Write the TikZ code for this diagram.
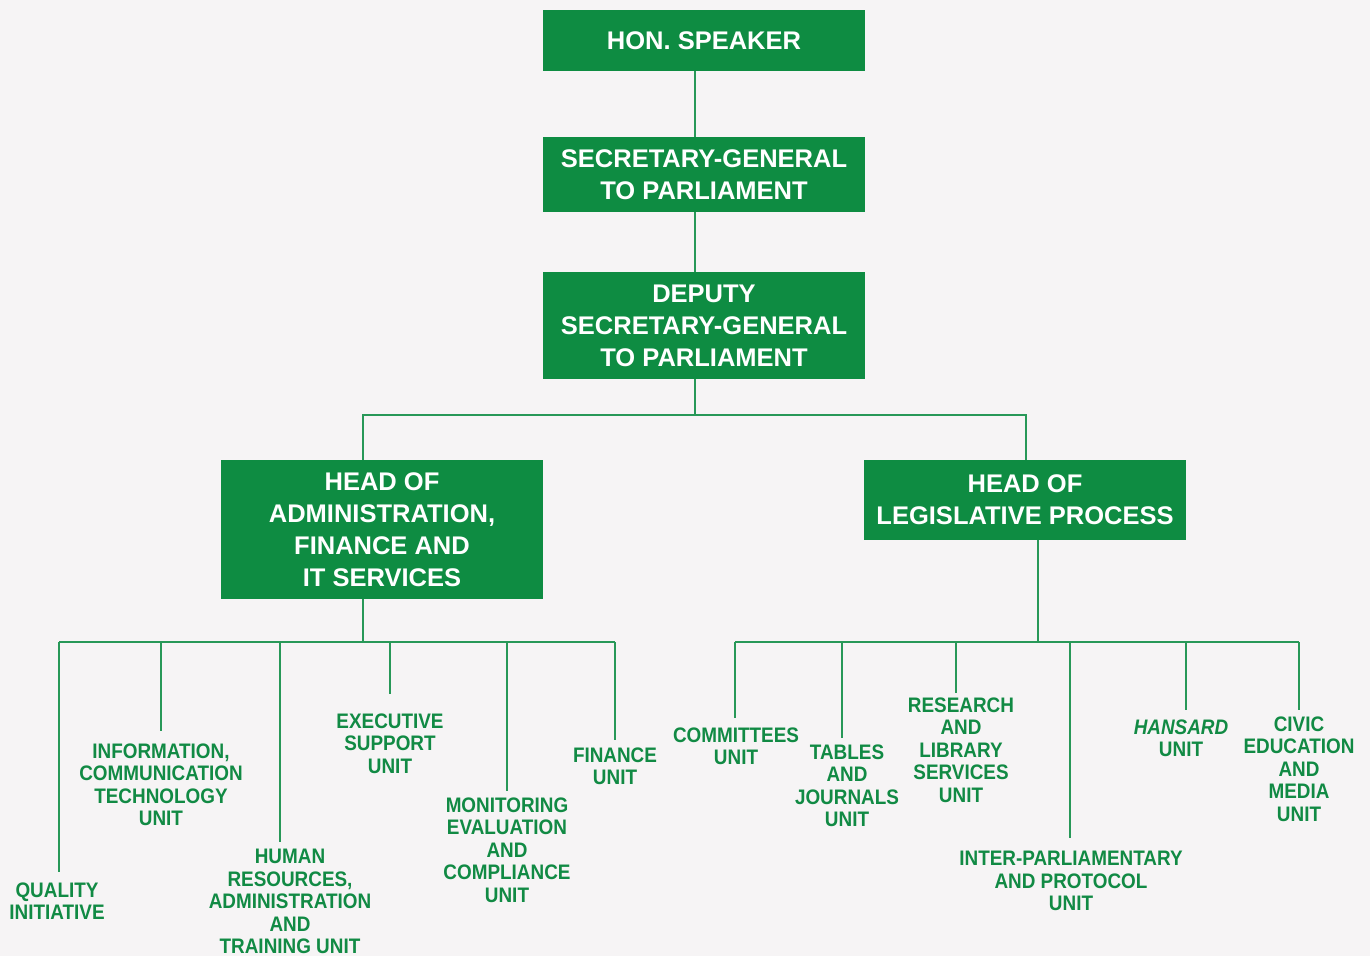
\documentclass[tikz,border=0pt]{standalone}
\usepackage{fontspec}
\setmainfont{Liberation Sans}
\newfontfamily\unitfont[FakeStretch=0.9]{Liberation Sans}
\usetikzlibrary{positioning}

\definecolor{boxgreen}{RGB}{14,140,66}
\definecolor{unitgreen}{RGB}{17,138,68}
\definecolor{linegreen}{RGB}{40,152,88}
\definecolor{paper}{RGB}{246,244,245}

\tikzset{
  post/.style={fill=boxgreen, text=white, align=center, inner sep=0pt,
    minimum width=161pt, font=\bfseries\fontsize{12.75}{16}\selectfont},
  unit/.style={text=unitgreen, align=center, inner xsep=0pt, inner ysep=#1, anchor=north,
    font=\unitfont\bfseries\fontsize{10.5}{11.25}\selectfont},
  unit/.default=3pt,
  link/.style={draw=linegreen, line width=0.75pt}
}

\begin{document}
\begin{tikzpicture}[x=0.5pt, y=-0.5pt]

\fill[paper] (0,0) rectangle (1370,956);
\useasboundingbox (0,0) rectangle (1370,956);

% top of the chart
\node[post, minimum height=30.5pt] (sp) at (704,40.5) {HON. SPEAKER};
\node[post, minimum height=37.5pt] (sg) at (704,174.5) {SECRETARY-GENERAL\\TO PARLIAMENT};
\node[post, minimum height=53.5pt] (dsg) at (704,325.5) {DEPUTY\\SECRETARY-GENERAL\\TO PARLIAMENT};
\node[post, minimum height=69.5pt] (adm) at (382,529.5) {HEAD OF\\ADMINISTRATION,\\FINANCE AND\\IT SERVICES};
\node[post, minimum height=40pt] (leg) at (1025,500) {HEAD OF\\LEGISLATIVE PROCESS};

\coordinate (jt) at (695,415);
\coordinate (ta) at (363,415);
\coordinate (tl) at (1026,415);
\coordinate (ba) at (363,642);
\coordinate (bl) at (1038,642);

\draw[link] (sp.south -| jt) -- (sg.north -| jt);
\draw[link] (sg.south -| jt) -- (dsg.north -| jt);
\draw[link] (dsg.south -| jt) -- (jt);
\draw[link] (ta |- adm.north) -- (ta) -- (tl) -- (tl |- leg.north);

% administration units
\node[unit=5pt] (qi) at (57,872) {QUALITY\\INITIATIVE};
\node[unit=6pt] (ict) at (161,731) {INFORMATION,\\COMMUNICATION\\TECHNOLOGY\\UNIT};
\node[unit=3.5pt] (hr) at (290,842) {HUMAN\\RESOURCES,\\ADMINISTRATION\\AND\\TRAINING UNIT};
\node[unit=9.5pt] (esu) at (390,694) {EXECUTIVE\\SUPPORT\\UNIT};
\node[unit=3pt] (mec) at (507,791) {MONITORING\\EVALUATION\\AND\\COMPLIANCE\\UNIT};
\node[unit=3.5pt] (fin) at (615,740) {FINANCE\\UNIT};

\draw[link] (adm.south -| ba) -- (ba);
\draw[link] (59,642) -- (615,642);
\foreach \n/\x in {qi/59, ict/161, hr/280, esu/390, mec/507, fin/615}
  \draw[link] (\x,642) -- (\x,0 |- \n.north);

% legislative units
\node[unit=4.5pt] (com) at (736,718) {COMMITTEES\\UNIT};
\node[unit=3pt] (tab) at (847,738) {TABLES\\AND\\JOURNALS\\UNIT};
\node[unit=2pt] (res) at (961,693) {RESEARCH\\AND\\LIBRARY\\SERVICES\\UNIT};
\node[unit=6.5pt] (ipu) at (1071,838) {INTER-PARLIAMENTARY\\AND PROTOCOL\\UNIT};
\node[unit=4.5pt] (han) at (1181,710) {\itshape HANSARD\\UNIT};
\node[unit=3pt] (cem) at (1299,710) {CIVIC\\EDUCATION\\AND\\MEDIA\\UNIT};

\draw[link] (leg.south -| bl) -- (bl);
\draw[link] (735,642) -- (1299,642);
\foreach \n/\x in {com/735, tab/842, res/956, ipu/1070, han/1186, cem/1299}
  \draw[link] (\x,642) -- (\x,0 |- \n.north);

\end{tikzpicture}
\end{document}
